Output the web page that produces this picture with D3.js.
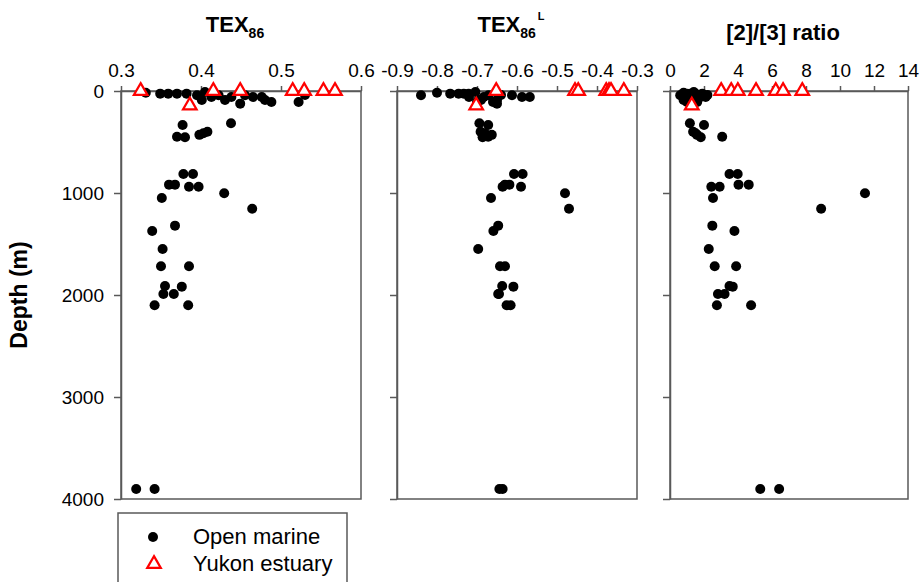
<!DOCTYPE html>
<html>
<head>
<meta charset="utf-8">
<script src="https://cdnjs.cloudflare.com/ajax/libs/d3/7.8.5/d3.min.js"></script>
<style>
body { margin: 0; background: #fff; }
svg { display: block; font-family: Arial, "Liberation Sans", sans-serif; }
</style>
</head>
<body>
<svg id="chart"></svg>
<script>
// Open marine samples: depth (m) and the three proxies
var marineDepth = [17, 26, 26, 26, 26, 42, 88, 10, 59, 42, 88, 59, 124, 42, 59, 59, 88, 108, 108, 40,
	317, 333, 399, 414, 430, 448, 454, 814, 814, 918, 918, 938, 938, 1003, 1049, 1154, 1320, 1373,
	1549, 1719, 1719, 1912, 1918, 1990, 1990, 2101, 2101, 3902, 3902];
var marineTex86 = [0.331, 0.349, 0.359, 0.370, 0.382, 0.395, 0.401, 0.405, 0.413, 0.422, 0.430, 0.438,
	0.449, 0.455, 0.465, 0.476, 0.480, 0.488, 0.522, 0.530,
	0.4375, 0.377, 0.408, 0.403, 0.398, 0.370, 0.380, 0.378, 0.390, 0.360, 0.3675, 0.385, 0.397,
	0.429, 0.351, 0.464, 0.3675, 0.339, 0.352, 0.350, 0.385, 0.355, 0.376, 0.353, 0.366, 0.342,
	0.384, 0.319, 0.342];
var marineTexL = [-0.80, -0.767, -0.746, -0.733, -0.721, -0.84, -0.696, -0.704, -0.683, -0.671, -0.65,
	-0.5875, -0.65, -0.6125, -0.568, -0.72, -0.69, -0.66, -0.70, -0.64,
	-0.694, -0.672, -0.691, -0.68, -0.663, -0.672, -0.686, -0.6075, -0.586, -0.619, -0.63, -0.636,
	-0.59, -0.48, -0.665, -0.47, -0.647, -0.659, -0.697, -0.6425, -0.63, -0.637, -0.609, -0.647,
	-0.645, -0.626, -0.616, -0.644, -0.636];
var marineRatio = [0.8, 1.0, 1.2, 1.5, 1.9, 0.6, 1.1, 1.4, 0.9, 1.7, 1.5, 2.1, 1.2, 1.3, 1.8, 1.4,
	0.8, 1.6, 1.0, 2.2,
	1.17, 2.0, 1.36, 1.5, 1.59, 3.07, 1.81, 3.5, 3.98, 4.03, 4.63, 2.43, 2.92, 11.47, 2.53, 8.89,
	2.49, 3.79, 2.28, 2.63, 3.89, 3.5, 3.69, 2.82, 3.21, 2.76, 4.77, 5.31, 6.42];

// Yukon estuary samples
var yukonDepth = [0, 0, 0, 0, 0, 0, 0, 142];
var yukonTex86 = [0.3246, 0.4154, 0.449, 0.5146, 0.529, 0.553, 0.5675, 0.386];
var yukonTexL = [-0.652, -0.455, -0.447, -0.377, -0.37, -0.365, -0.333, -0.702];
var yukonRatio = [3.01, 3.6, 3.99, 5.06, 6.22, 6.65, 7.78, 1.28];

// Axis ticks
var depthTicks = [0, 1000, 2000, 3000, 4000];
var tex86Ticks = [0.3, 0.4, 0.5, 0.6];
var texLTicks = [-0.9, -0.8, -0.7, -0.6, -0.5, -0.4, -0.3];
var ratioTicks = [0, 2, 4, 6, 8, 10, 12, 14];
var legendLabels = ["Open marine", "Yukon estuary"];

var width = 920;
var height = 582;
var axisColor = "#595959";

var svg = d3.select("#chart")
	.attr("width", width)
	.attr("height", height);

var y = d3.scaleLinear()
	.domain([0, 4000])
	.range([91, 499]);

var panels = [
	{ marine: marineTex86, yukon: yukonTex86, ticks: tex86Ticks, domain: [0.3, 0.6],
		range: [121, 361], fmt: function(d) { return d.toFixed(1); }, labels: true },
	{ marine: marineTexL, yukon: yukonTexL, ticks: texLTicks, domain: [-0.9, -0.3],
		range: [397, 637], fmt: function(d) { return d.toFixed(1); }, labels: false },
	{ marine: marineRatio, yukon: yukonRatio, ticks: ratioTicks, domain: [0, 14],
		range: [670, 908], fmt: function(d) { return d; }, labels: false }
];

panels.forEach(function(p, pi) {
	var x = d3.scaleLinear().domain(p.domain).range(p.range);
	var g = svg.append("g");

	// frame
	g.append("rect")
		.attr("x", p.range[0])
		.attr("y", y(0))
		.attr("width", p.range[1] - p.range[0])
		.attr("height", y(4000) - y(0))
		.attr("fill", "none")
		.attr("stroke", axisColor)
		.attr("stroke-width", 1.5);

	// top axis
	var xAxis = d3.axisTop(x)
		.tickValues(p.ticks)
		.tickFormat(p.fmt)
		.tickSize(5)
		.tickSizeOuter(0)
		.tickPadding(9);
	var gx = g.append("g")
		.attr("transform", "translate(0," + y(0) + ")")
		.call(xAxis);

	// left axis
	var yAxis = d3.axisLeft(y)
		.tickValues(depthTicks)
		.tickFormat(p.labels ? d3.format("d") : "")
		.tickSize(7)
		.tickSizeOuter(0)
		.tickPadding(10);
	var gy = g.append("g")
		.attr("transform", "translate(" + p.range[0] + ",0)")
		.call(yAxis);

	[gx, gy].forEach(function(a) {
		a.attr("font-size", 19)
			.attr("font-family", "Arial, 'Liberation Sans', sans-serif");
		a.selectAll(".domain").attr("stroke", axisColor).attr("stroke-width", 1.5);
		a.selectAll(".tick line").attr("stroke", axisColor).attr("stroke-width", 1.5);
		a.selectAll(".tick text").attr("fill", "#000");
	});

	// open marine dots
	g.selectAll(".marine")
		.data(p.marine)
		.enter()
		.append("circle")
		.attr("class", "marine")
		.attr("cx", function(d) { return x(d); })
		.attr("cy", function(d, i) { return y(marineDepth[i]); })
		.attr("r", 5)
		.attr("fill", "#000");

	// Yukon estuary triangles
	g.selectAll(".yukon")
		.data(p.yukon)
		.enter()
		.append("path")
		.attr("class", "yukon")
		.attr("d", d3.symbol().type(d3.symbolTriangle).size(80))
		.attr("transform", function(d, i) {
			return "translate(" + x(d) + "," + y(yukonDepth[i]) + ")";
		})
		.attr("fill", "#fff")
		.attr("stroke", "#ff0000")
		.attr("stroke-width", 2.2);
});

// Titles
var t1 = svg.append("text")
	.attr("x", 235)
	.attr("y", 32)
	.attr("text-anchor", "middle")
	.attr("font-weight", "bold")
	.attr("font-size", 22);
t1.append("tspan").text("TEX");
t1.append("tspan").attr("font-size", 14).attr("dy", 6).text("86");

var t2 = svg.append("text")
	.attr("x", 511)
	.attr("y", 32)
	.attr("text-anchor", "middle")
	.attr("font-weight", "bold")
	.attr("font-size", 22);
t2.append("tspan").text("TEX");
t2.append("tspan").attr("font-size", 14).attr("dy", 6).text("86");
t2.append("tspan").attr("font-size", 11).attr("dx", 2).attr("dy", -18).text("L");

svg.append("text")
	.attr("x", 783)
	.attr("y", 40)
	.attr("text-anchor", "middle")
	.attr("font-weight", "bold")
	.attr("font-size", 22)
	.text("[2]/[3] ratio");

// Y label
svg.append("text")
	.attr("transform", "translate(27," + y(2000) + ")rotate(-90)")
	.attr("text-anchor", "middle")
	.attr("font-weight", "bold")
	.attr("font-size", 23)
	.text("Depth (m)");

// Legend
var legend = svg.append("g");
legend.append("rect")
	.attr("x", 118)
	.attr("y", 513)
	.attr("width", 229)
	.attr("height", 90)
	.attr("fill", "#fff")
	.attr("stroke", axisColor)
	.attr("stroke-width", 1.5);

legend.append("circle")
	.attr("cx", 153)
	.attr("cy", 537)
	.attr("r", 5)
	.attr("fill", "#000");

legend.append("path")
	.attr("d", d3.symbol().type(d3.symbolTriangle).size(80))
	.attr("transform", "translate(154,564)")
	.attr("fill", "#fff")
	.attr("stroke", "#ff0000")
	.attr("stroke-width", 2.2);

legend.selectAll(".leg-text")
	.data(legendLabels)
	.enter()
	.append("text")
	.attr("class", "leg-text")
	.attr("x", 193)
	.attr("y", function(d, i) { return 544 + i * 27; })
	.attr("font-size", 22)
	.text(function(d) { return d; });
</script>
</body>
</html>
